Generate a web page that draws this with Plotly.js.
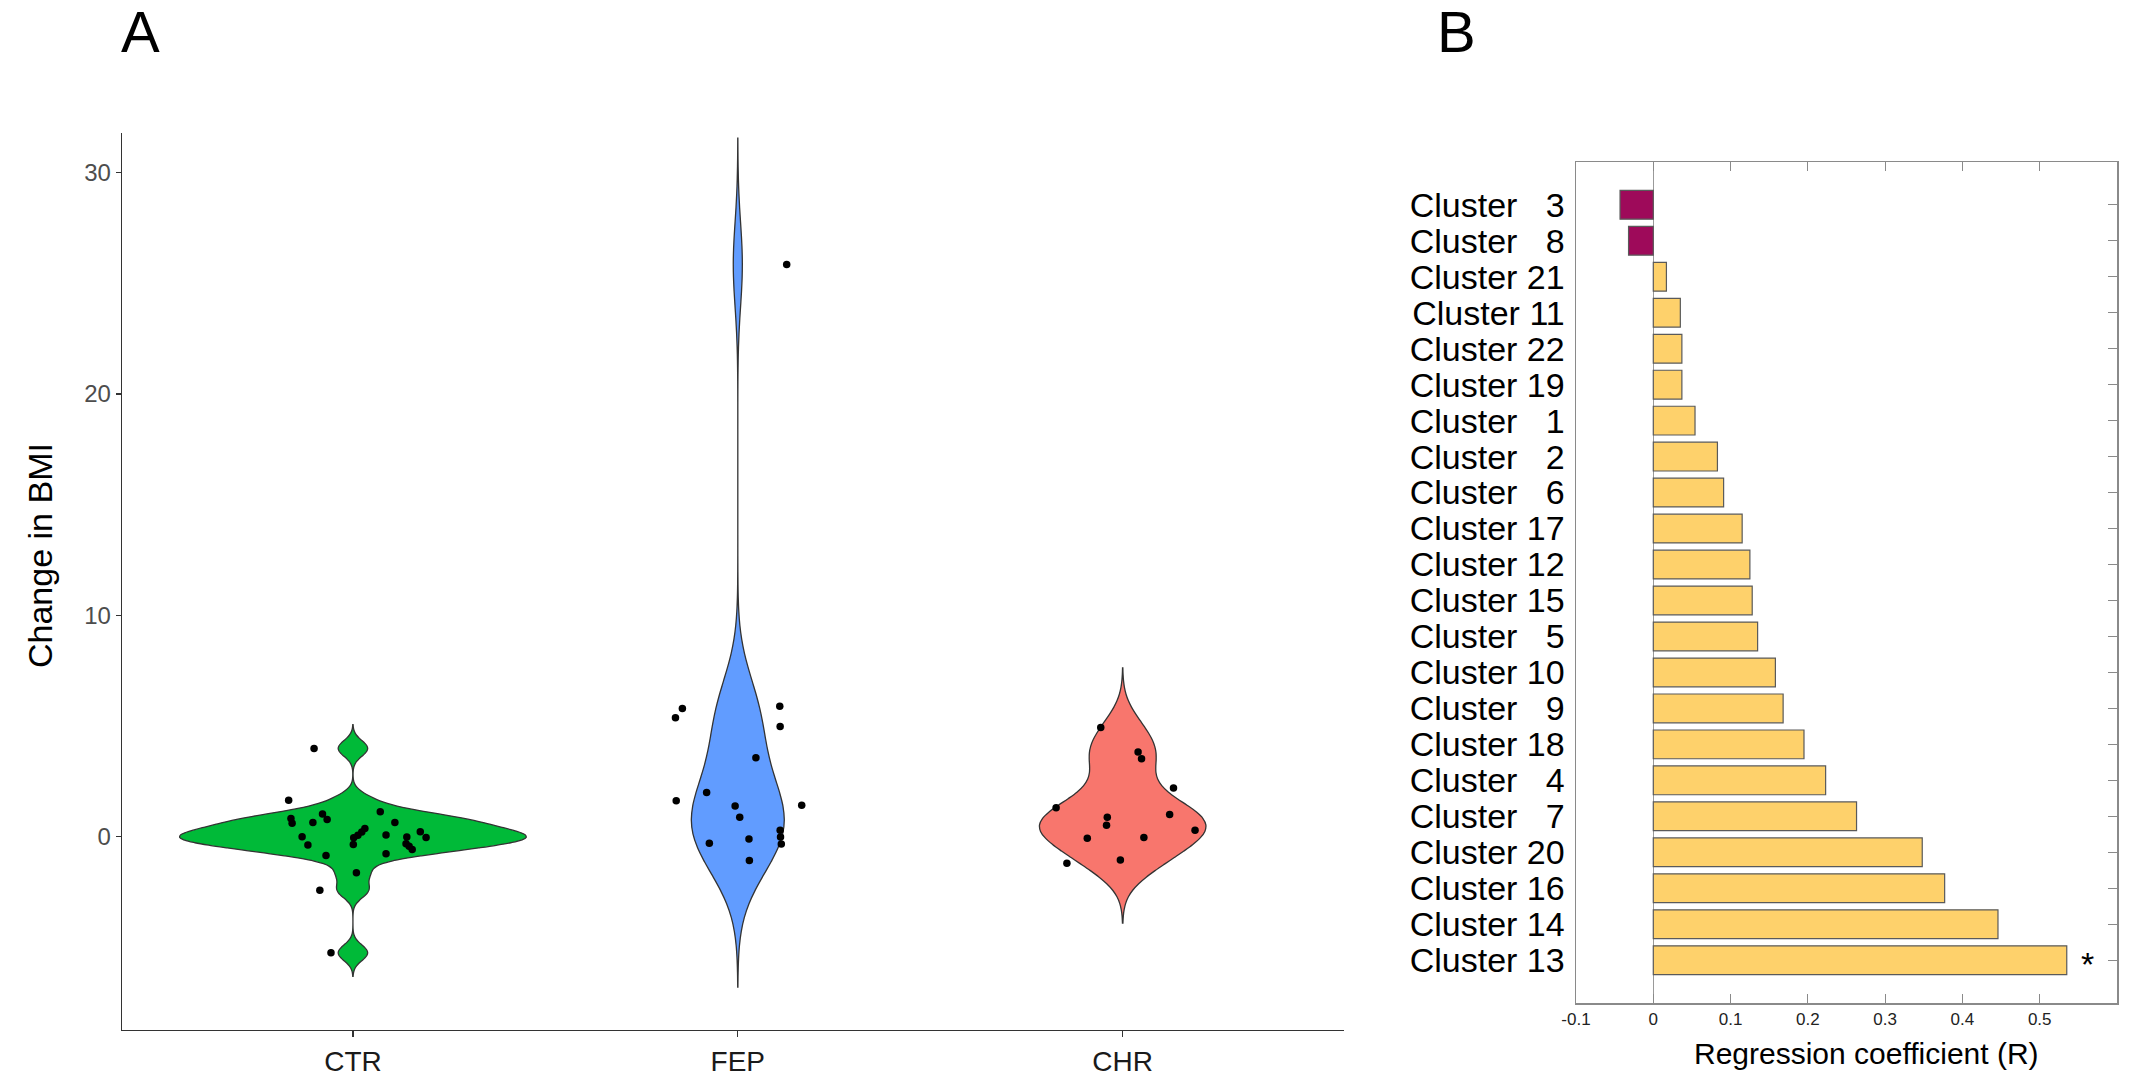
<!DOCTYPE html>
<html>
<head>
<meta charset="utf-8">
<script src="https://cdn.plot.ly/plotly-3.0.1.min.js"></script>
<style>
html,body{margin:0;padding:0;background:#ffffff;}
#chart{width:2136px;height:1078px;}
</style>
</head>
<body>
<div id="chart"></div>
<script>
// ---------- Panel A data (change in BMI per group) ----------
const groups = ['CTR', 'FEP', 'CHR'];
const groupColors = ['#00BA38', '#619CFF', '#F8766D'];

const ctrBMI = [3.98, 1.64, 0.81, 0.60, 0.63, 1.01, 0.77, -0.01, -0.39, -0.86,
                1.12, 0.63, 0.36, 0.20, 0.05, -0.06, -0.36, 0.06, -0.78, -0.03,
                -0.33, -0.44, -0.59, 0.21, -0.05, -1.64, -2.43, -5.26];
const ctrJitter = [-0.101, -0.167, -0.161, -0.158, -0.104, -0.079, -0.067, -0.132, -0.117, -0.070,
                   0.071, 0.109, 0.031, 0.023, 0.013, 0.002, 0.001, 0.086, 0.086, 0.140,
                   0.138, 0.146, 0.154, 0.175, 0.190, 0.009, -0.086, -0.057];

const fepBMI = [5.36, 5.78, 5.89, 4.97, 3.56, 1.99, 1.61, 1.41, 1.38, 0.87,
                0.28, -0.03, -0.34, -0.12, -0.31, -1.09, 25.85];
const fepJitter = [-0.162, -0.144, 0.109, 0.110, 0.047, -0.081, -0.160, 0.166, -0.007, 0.005,
                   0.110, 0.111, 0.113, 0.029, -0.074, 0.030, 0.127];

const chrBMI = [4.92, 3.82, 3.51, 2.19, 1.30, 0.99, 0.87, 0.51, 0.28, -0.08, -0.05, -1.07, -1.21];
const chrJitter = [-0.057, 0.040, 0.049, 0.132, -0.173, 0.122, -0.040, -0.042, 0.188, -0.092, 0.055, -0.006, -0.145];

const bmiTicks = [0, 10, 20, 30];

// ---------- Panel B data (regression coefficients) ----------
const clusterIds = [3, 8, 21, 11, 22, 19, 1, 2, 6, 17, 12, 15, 5, 10, 9, 18, 4, 7, 20, 16, 14, 13];
const clusterR = [-0.043, -0.032, 0.017, 0.035, 0.037, 0.037, 0.054, 0.083, 0.091, 0.115, 0.125,
                  0.128, 0.135, 0.158, 0.168, 0.195, 0.223, 0.263, 0.348, 0.377, 0.446, 0.535];
const significantClusters = [13];
const rTicks = [-0.1, 0, 0.1, 0.2, 0.3, 0.4, 0.5];
const rTickText = ['-0.1', '0', '0.1', '0.2', '0.3', '0.4', '0.5'];

// ---------- helpers ----------
const W = 2136, H = 1078;
const px = v => v / W;
const py = v => (H - v) / H;
const FONT = '"Liberation Sans", Arial, "DejaVu Sans", sans-serif';

function nrd0(v) {
  const n = v.length;
  const s = v.slice().sort((a, b) => a - b);
  const mean = v.reduce((a, b) => a + b, 0) / n;
  const sd = Math.sqrt(v.reduce((a, b) => a + (b - mean) * (b - mean), 0) / (n - 1));
  const q = p => { const h = (n - 1) * p; const lo = Math.floor(h); const hi = Math.min(lo + 1, n - 1); return s[lo] + (h - lo) * (s[hi] - s[lo]); };
  const iqr = q(0.75) - q(0.25);
  let lo = Math.min(sd, iqr / 1.34);
  if (!(lo > 0)) lo = sd || 1;
  return 0.9 * lo * Math.pow(n, -0.2);
}

// peak of the gaussian kernel density (used to give every violin the same area)
function kdePeak(v, bw, span) {
  const n = v.length, steps = 600;
  let best = 0;
  for (let s = 0; s <= steps; s++) {
    const x = span[0] + (span[1] - span[0]) * s / steps;
    let d = 0;
    for (let k = 0; k < n; k++) { const z = (x - v[k]) / bw; d += Math.exp(-0.5 * z * z); }
    d /= n * bw * Math.sqrt(2 * Math.PI);
    if (d > best) best = d;
  }
  return best;
}

function clusterLabel(id) {
  return 'Cluster\u00a0' + (id < 10 ? '\u00a0\u00a0' : '') + id;
}

const groupData = [ctrBMI, fepBMI, chrBMI];
const groupJitter = [ctrJitter, fepJitter, chrJitter];

const stats = groupData.map(vals => {
  const bw = nrd0(vals);
  const span = [Math.min(...vals) - 3 * bw, Math.max(...vals) + 3 * bw];
  return {bw: bw, span: span, peak: kdePeak(vals, bw, span)};
});
const maxPeak = Math.max(...stats.map(s => s.peak));

const traces = [];

groupData.forEach((vals, i) => {
  const st = stats[i];
  traces.push({
    type: 'violin',
    x0: i,
    y: vals,
    xaxis: 'x', yaxis: 'y',
    width: 0.9 * st.peak / maxPeak,
    scalemode: 'width',
    bandwidth: st.bw,
    spanmode: 'manual',
    span: st.span,
    points: false,
    box: {visible: false},
    meanline: {visible: false},
    fillcolor: groupColors[i],
    line: {color: '#333333', width: 1.3},
    showlegend: false,
    hoverinfo: 'skip',
    name: groups[i]
  });
});

groupData.forEach((vals, i) => {
  traces.push({
    type: 'scatter',
    mode: 'markers',
    x: vals.map((v, k) => i + groupJitter[i][k]),
    y: vals,
    xaxis: 'x', yaxis: 'y',
    marker: {color: '#000000', size: 7.5},
    showlegend: false,
    hoverinfo: 'skip'
  });
});

const labels = clusterIds.map(clusterLabel);

traces.push({
  type: 'bar',
  orientation: 'h',
  x: clusterR,
  y: labels,
  xaxis: 'x2', yaxis: 'y2',
  width: 0.8,
  marker: {
    color: clusterR.map(v => v < 0 ? '#9E0A5A' : '#FED16B'),
    line: {color: '#5a5a5a', width: 1.2}
  },
  showlegend: false,
  hoverinfo: 'skip'
});

// invisible helper trace to carry the right-side tick axis
traces.push({
  type: 'scatter',
  mode: 'markers',
  x: clusterR,
  y: labels,
  xaxis: 'x2', yaxis: 'y3',
  marker: {opacity: 0, size: 1},
  showlegend: false,
  hoverinfo: 'skip'
});

const nCat = labels.length;
const catRange = [nCat - 1 + 1.19, -1.19];

const layout = {
  width: W, height: H,
  margin: {l: 0, r: 0, t: 0, b: 0},
  paper_bgcolor: '#ffffff',
  plot_bgcolor: 'rgba(0,0,0,0)',
  font: {family: FONT, color: '#000000'},
  violinmode: 'overlay',
  xaxis: {
    domain: [px(122), px(1344)],
    anchor: 'y',
    range: [-0.6, 2.575],
    tickvals: [0, 1, 2],
    ticktext: groups,
    ticks: 'outside', ticklen: 6, tickcolor: '#333333', tickwidth: 1.2,
    showline: true, linecolor: '#333333', linewidth: 1.3,
    showgrid: false, zeroline: false,
    tickfont: {size: 28, color: '#1a1a1a', family: FONT},
    fixedrange: true
  },
  yaxis: {
    domain: [py(1030), py(133)],
    anchor: 'x',
    range: [-8.75, 31.8],
    tickvals: bmiTicks,
    ticks: 'outside', ticklen: 5, tickcolor: '#333333', tickwidth: 1.2,
    showline: true, linecolor: '#333333', linewidth: 1.3,
    showgrid: false, zeroline: false,
    tickfont: {size: 24, color: '#4D4D4D', family: FONT},
    fixedrange: true
  },
  xaxis2: {
    domain: [px(1576), px(2117)],
    anchor: 'y2',
    range: [-0.1, 0.6],
    tickvals: rTicks,
    ticktext: rTickText,
    ticks: 'inside', ticklen: 9, tickcolor: '#8a8a8a', tickwidth: 1.2,
    showline: true, mirror: 'ticks', linecolor: '#8a8a8a', linewidth: 1.5,
    showgrid: false,
    zeroline: true, zerolinecolor: '#9a9a9a', zerolinewidth: 1.3,
    tickfont: {size: 17, color: '#222222', family: FONT},
    fixedrange: true
  },
  yaxis2: {
    domain: [py(1003), py(162)],
    anchor: 'x2',
    type: 'category',
    categoryorder: 'array',
    categoryarray: labels,
    tickmode: 'array',
    tickvals: labels,
    ticktext: labels,
    range: catRange,
    ticks: '',
    showline: true, mirror: true, linecolor: '#8a8a8a', linewidth: 1.5,
    showgrid: false, zeroline: false,
    tickfont: {size: 34, color: '#000000', family: FONT},
    ticklabelstandoff: 3,
    fixedrange: true
  },
  yaxis3: {
    overlaying: 'y2',
    anchor: 'x2',
    side: 'right',
    type: 'category',
    categoryorder: 'array',
    categoryarray: labels,
    tickmode: 'array',
    tickvals: labels,
    range: catRange,
    ticks: 'inside', ticklen: 9, tickcolor: '#8a8a8a', tickwidth: 1.2,
    showticklabels: false,
    showline: false, showgrid: false, zeroline: false,
    fixedrange: true
  },
  annotations: [
    {text: 'A', xref: 'paper', yref: 'paper', x: px(140), y: py(31), xanchor: 'center', yanchor: 'middle',
     showarrow: false, font: {size: 58, color: '#000000', family: FONT}},
    {text: 'B', xref: 'paper', yref: 'paper', x: px(1456), y: py(31), xanchor: 'center', yanchor: 'middle',
     showarrow: false, font: {size: 58, color: '#000000', family: FONT}},
    {text: 'Change in BMI', xref: 'paper', yref: 'paper', x: px(40), y: py(556), xanchor: 'center', yanchor: 'middle',
     textangle: -90, showarrow: false, font: {size: 34, color: '#000000', family: FONT}},
    {text: 'Regression coefficient (R)', xref: 'paper', yref: 'paper', x: px(1866), y: py(1053), xanchor: 'center', yanchor: 'middle',
     showarrow: false, font: {size: 30, color: '#000000', family: FONT}}
  ].concat(significantClusters.map(id => {
    const k = clusterIds.indexOf(id);
    return {text: '*', xref: 'x2', yref: 'y2', x: clusterR[k], y: labels[k], xanchor: 'left', yanchor: 'middle',
            xshift: 12, yshift: -4, showarrow: false, font: {size: 34, color: '#000000', family: FONT}};
  }))
};

Plotly.newPlot('chart', traces, layout, {displayModeBar: false, staticPlot: true});
</script>
</body>
</html>
